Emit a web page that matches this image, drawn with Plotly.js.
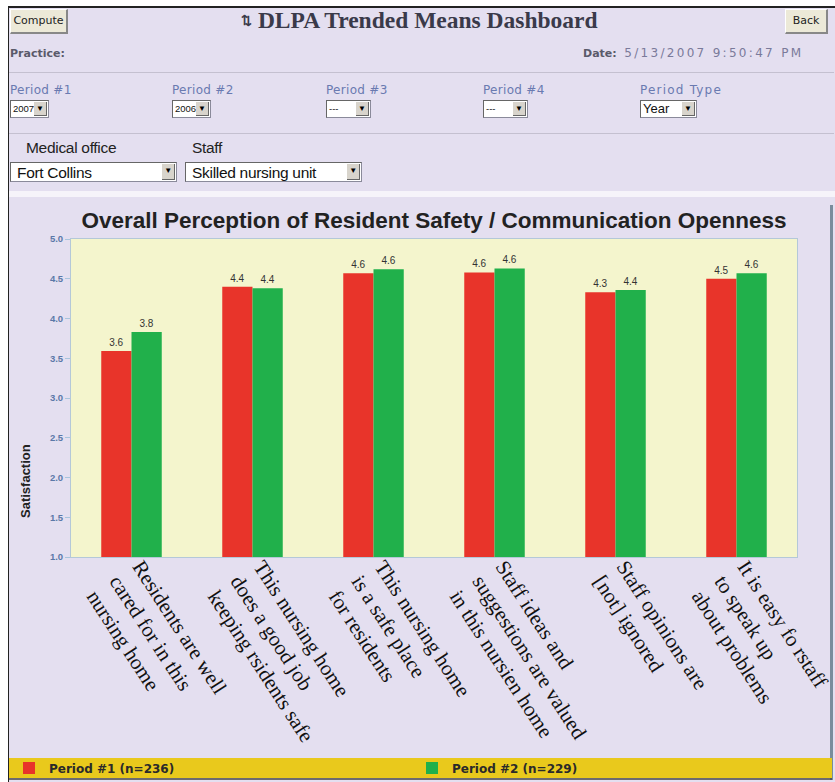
<!DOCTYPE html>
<html><head><meta charset="utf-8">
<script src="https://cdn.plot.ly/plotly-3.0.1.min.js"></script>
<style>
body{margin:0;width:835px;height:782px;background:#fff;position:relative;overflow:hidden;font-family:"DejaVu Sans",Verdana,sans-serif}
.a{position:absolute;white-space:nowrap}
.frame{left:8px;top:6px;width:826px;height:776px;background:#e4dff0;border-left:1px solid #222;border-top:2px solid #222}
.btn{background:#ece9d8;border-top:1px solid #fff;border-left:1px solid #fff;border-right:2px solid #888;border-bottom:2px solid #888;font-size:11px;color:#222;text-align:center;line-height:22px;height:22px}
.lbl{font-size:12px;color:#6a7ab0;letter-spacing:0.3px}
.sel{background:#fff;border:1px solid #8a8a9a;border-top-color:#666;border-left-color:#666;font-family:"Liberation Sans",Arial,sans-serif;font-size:9.5px;color:#111;line-height:16px;padding-left:2px;box-sizing:border-box;height:18px}
.arr{position:absolute;right:1px;top:1px;width:13px;height:14px;background:#d8d4cc;font-size:8px;line-height:14px;text-align:center;color:#000;border-right:1px solid #666;border-bottom:1px solid #666;box-sizing:border-box}
.hr{height:1px;background:#c4c0d0;left:9px;width:825px}
.big{font-family:"Liberation Sans",Arial,sans-serif;font-size:15.5px;letter-spacing:-0.3px}
</style></head>
<body>
<div class="a frame"></div>
<div class="a btn" style="left:10px;top:9px;width:55px">Compute</div>
<div class="a" style="left:241px;top:7px;font-family:'Liberation Serif','Times New Roman',serif;font-weight:bold;font-size:23.5px;color:#3a3a4a"><span style="font-size:13px;vertical-align:3px">&#x21C5;</span> DLPA Trended Means Dashboard</div>
<div class="a btn" style="left:785px;top:9px;width:40px">Back</div>
<div class="a" style="left:10px;top:47px;font-size:11px;font-weight:bold;color:#5a5a6a">Practice:</div>
<div class="a" style="left:583px;top:46px;font-size:12px;color:#7a7a9a"><b style="color:#5a5a6a;font-size:11px">Date:</b>&nbsp; <span style="letter-spacing:2.3px">5/13/2007 9:50:47 PM</span></div>
<div class="a hr" style="top:72px"></div>
<div class="a lbl" style="left:10px;top:83px">Period #1</div>
<div class="a lbl" style="left:172px;top:83px">Period #2</div>
<div class="a lbl" style="left:326px;top:83px">Period #3</div>
<div class="a lbl" style="left:483px;top:83px">Period #4</div>
<div class="a lbl" style="left:640px;top:83px;letter-spacing:1.2px">Period Type</div>
<div class="a sel" style="left:10px;top:100px;width:39px">2007<div class="arr">&#9660;</div></div>
<div class="a sel" style="left:172px;top:100px;width:39px">2006<div class="arr">&#9660;</div></div>
<div class="a sel" style="left:326px;top:100px;width:45px">---<div class="arr">&#9660;</div></div>
<div class="a sel" style="left:483px;top:100px;width:45px">---<div class="arr">&#9660;</div></div>
<div class="a sel" style="left:640px;top:100px;width:57px;font-size:13px">Year<div class="arr">&#9660;</div></div>
<div class="a hr" style="top:133px"></div>
<div class="a big" style="left:26px;top:139px;color:#222">Medical office</div>
<div class="a big" style="left:192px;top:139px;color:#222">Staff</div>
<div class="a sel big" style="left:10px;top:162px;width:167px;height:20px;line-height:20px;padding-left:6px">Fort Collins<div class="arr" style="height:16px;top:1px">&#9660;</div></div>
<div class="a sel big" style="left:185px;top:162px;width:177px;height:20px;line-height:20px;padding-left:6px">Skilled nursing unit<div class="arr" style="height:16px;top:1px">&#9660;</div></div>
<div class="a" style="left:9px;top:191px;width:826px;height:6px;background:#f6f4fa"></div>
<div class="a" style="left:830px;top:205px;width:3px;height:575px;background:#7a8c9c"></div>
<div id="chart" class="a" style="left:9px;top:197px;width:826px;height:583px"></div>
<script>
const categories = [
  "Residents are well<br>cared for in this<br>nursing home",
  "This nursing home<br>does a good job<br>keeping rsidents safe",
  "This nursing home<br>is a safe place<br>for residents",
  "Staff ideas and<br>suggestions are valued<br>in this nursien home",
  "Staff opinions are<br>[not] ignored",
  "It is easy fo rstaff<br>to speak up<br>about problems"
];
const period1 = [3.59, 4.40, 4.57, 4.58, 4.33, 4.50];
const period2 = [3.83, 4.38, 4.62, 4.63, 4.36, 4.57];
const seriesNames = ["Period #1 (n=236)", "Period #2 (n=229)"];
const yTicks = [1.0, 1.5, 2.0, 2.5, 3.0, 3.5, 4.0, 4.5, 5.0];

const W = 826, H = 583, L = 62, R = 38, T = 42, B = 223;
const pw = W - L - R, ph = H - T - B;
const px = p => (p - L) / pw;          // chart px -> paper x
const py = p => (H - B - p) / ph;      // chart px -> paper y

const textFont = {family: "Liberation Sans, Arial, sans-serif", size: 10, color: "#333"};
const traces = [
  {type: "bar", x: categories, y: period1, name: seriesNames[0], legend: "legend",
   marker: {color: "#e8342a"}, text: period1, texttemplate: "%{y:.1f}",
   textposition: "outside", textfont: textFont, cliponaxis: false},
  {type: "bar", x: categories, y: period2, name: seriesNames[1], legend: "legend2",
   marker: {color: "#21b04b"}, text: period2, texttemplate: "%{y:.1f}",
   textposition: "outside", textfont: textFont, cliponaxis: false}
];
const legFont = {family: "DejaVu Sans, Verdana, sans-serif", size: 12, color: "#2a2a2a", weight: "bold"};
const layout = {
  width: W, height: H,
  margin: {l: L, r: R, t: T, b: B, pad: 0},
  paper_bgcolor: "rgba(0,0,0,0)", plot_bgcolor: "#f4f5cd",
  barmode: "group", bargap: 0.5, bargroupgap: 0,
  title: {text: "Overall Perception of Resident Safety / Communication Openness",
          x: 0.5, xref: "paper", y: 1 - 23 / H, yanchor: "middle",
          font: {family: "Liberation Sans, Arial, sans-serif", size: 22.5, color: "#222", weight: "bold"}},
  xaxis: {type: "category", tickangle: 57, ticks: "", showgrid: false,
          ticklabelshift: 9, ticklabelstandoff: -12,
          tickfont: {family: "Liberation Serif, Times New Roman, serif", size: 21, color: "#111"},
          showline: true, linecolor: "#b4c8d8", mirror: true, automargin: false},
  yaxis: {range: [1, 5], tickvals: yTicks, tickformat: ".1f", ticks: "outside", ticklen: 5,
          tickcolor: "#a8c4dc", showgrid: false, zeroline: false,
          showline: true, linecolor: "#b4c8d8", mirror: true,
          tickfont: {family: "Liberation Sans, Arial, sans-serif", size: 9.5, color: "#5a78a8", weight: "bold"},
          automargin: false},
  showlegend: true,
  legend: {xref: "container", yref: "container", x: 0, xanchor: "left", y: 1 - 571 / H, yanchor: "middle",
           bgcolor: "rgba(0,0,0,0)", font: legFont, orientation: "h"},
  legend2: {xref: "container", yref: "container", x: 403 / W, xanchor: "left", y: 1 - 571 / H, yanchor: "middle",
           bgcolor: "rgba(0,0,0,0)", font: legFont, orientation: "h"},
  shapes: [
    {type: "rect", xref: "paper", yref: "paper", x0: px(0), x1: px(823), y0: py(561), y1: py(581),
     fillcolor: "#e9c91c", line: {width: 0}, layer: "below"},
    {type: "line", xref: "paper", yref: "paper", x0: px(0), x1: px(823), y0: py(582), y1: py(582),
     line: {color: "#444", width: 1.5}}
  ],
  annotations: [
    {text: "Satisfaction", xref: "paper", yref: "paper", x: px(16), y: py(284),
     xanchor: "center", yanchor: "middle",
     textangle: -90, showarrow: false,
     font: {family: "Liberation Sans Narrow, Liberation Sans, Arial, sans-serif", size: 13, color: "#222", weight: "bold"}}
  ]
};
Plotly.newPlot("chart", traces, layout, {staticPlot: true, displayModeBar: false});
</script>
</body></html>
